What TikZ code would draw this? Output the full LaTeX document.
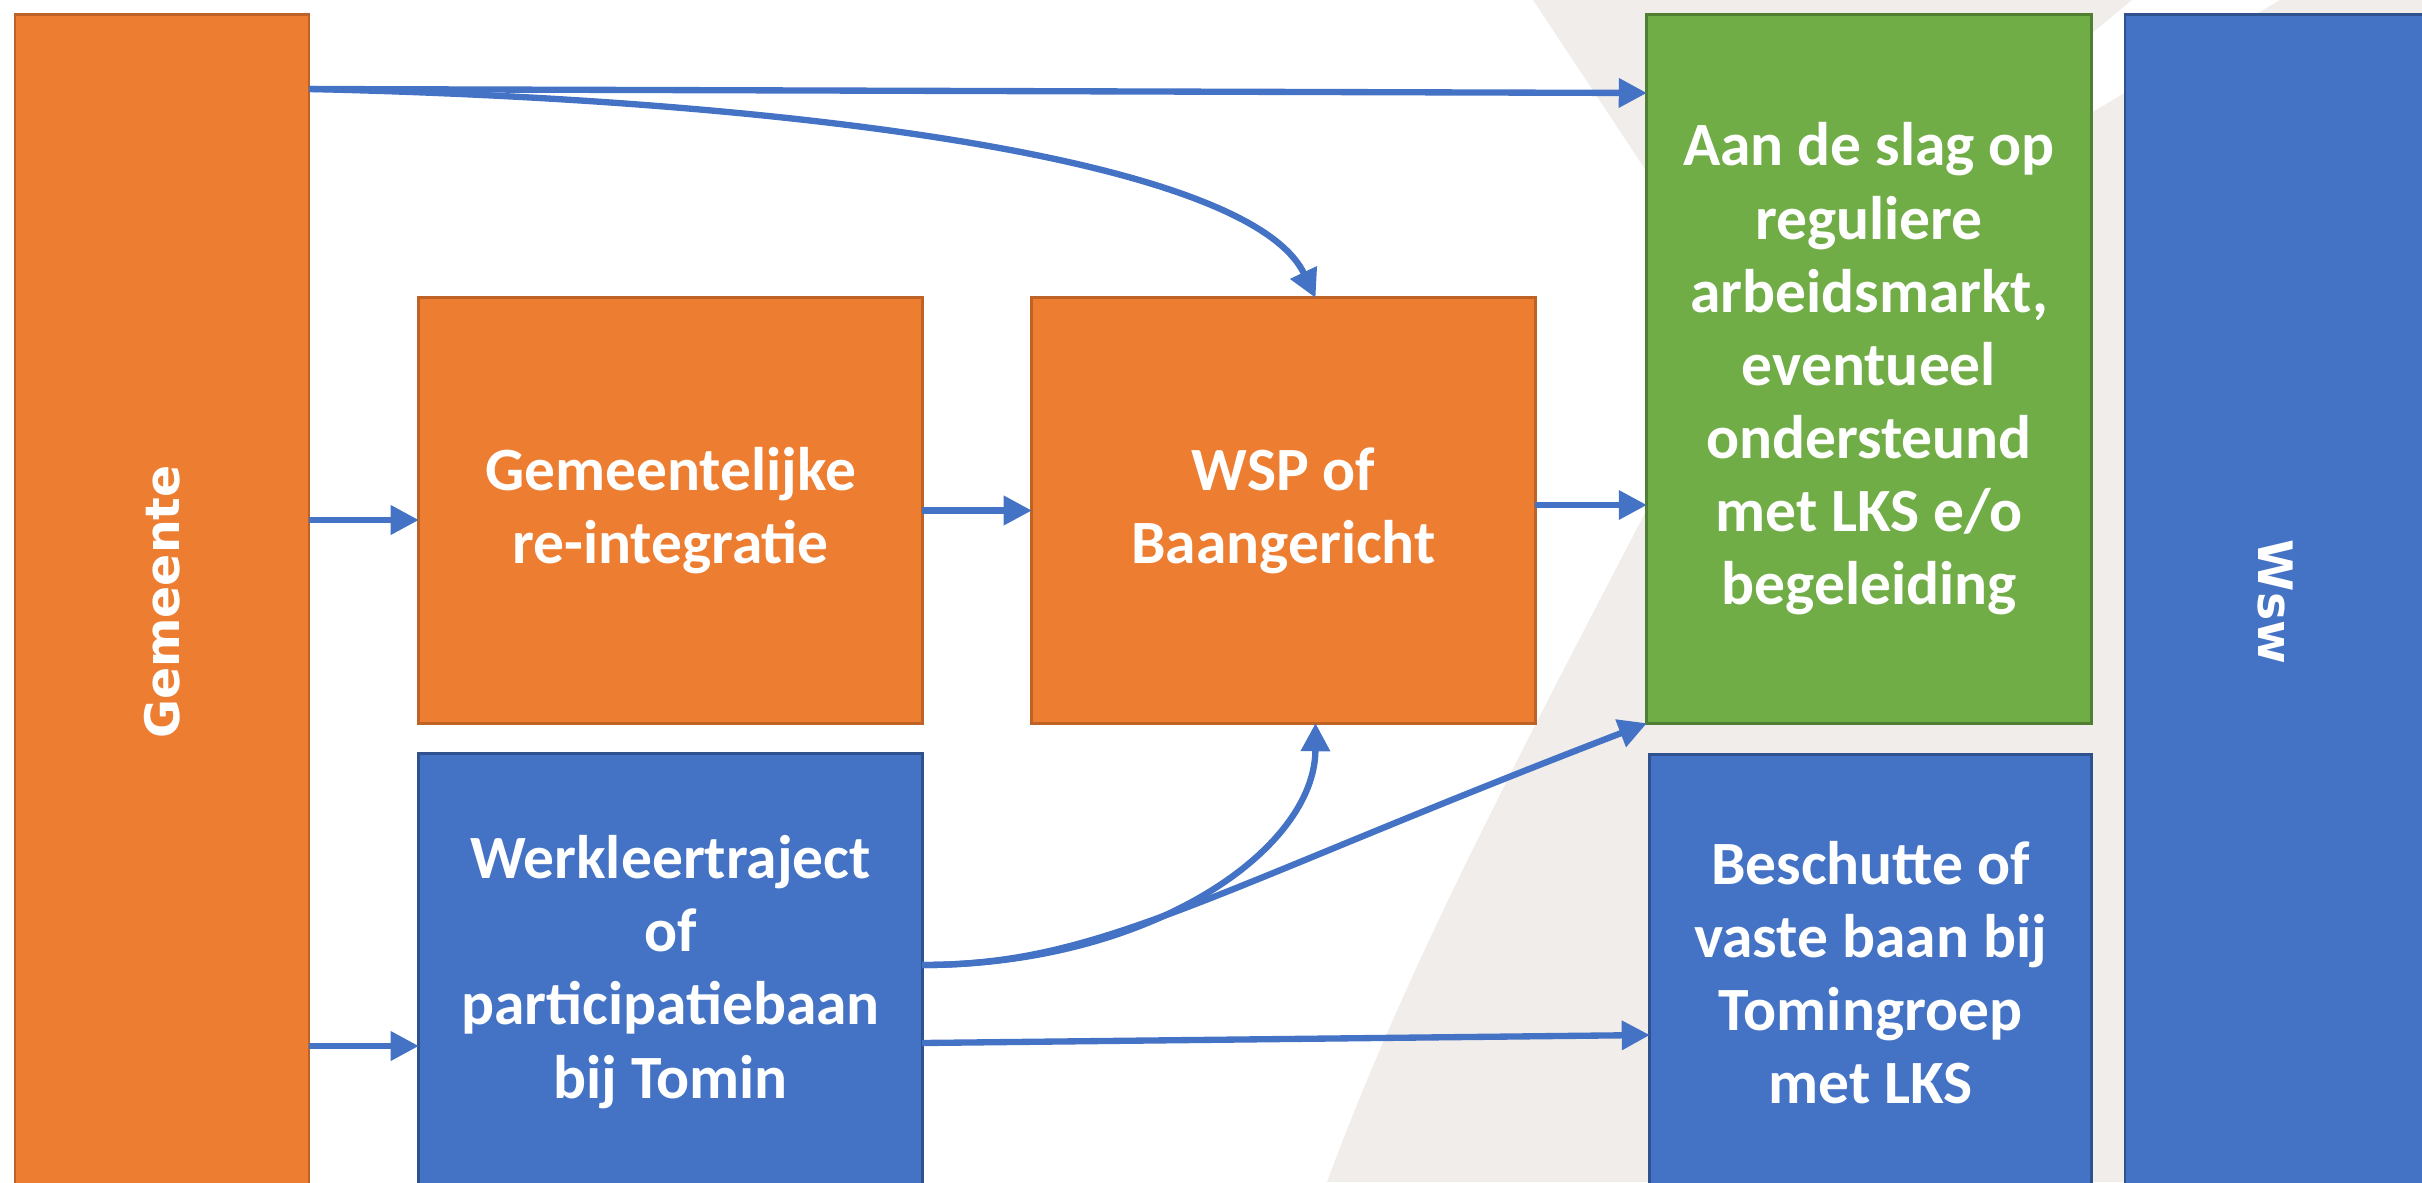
\documentclass[tikz,border=0pt]{standalone}
\usepackage{fontspec}
\setmainfont{Carlito}
\newfontfamily\zijletter{DejaVu Sans}
\usetikzlibrary{arrows.meta}

\definecolor{oranje}{RGB}{237,125,49}
\definecolor{oranjerand}{RGB}{190,98,38}
\definecolor{groen}{RGB}{112,173,71}
\definecolor{groenrand}{RGB}{80,126,50}
\definecolor{blauw}{RGB}{68,114,196}
\definecolor{blauwrand}{RGB}{47,82,143}
\definecolor{vlak}{RGB}{240,237,234}

\begin{document}
\begin{tikzpicture}[x=0.01cm, y=-0.01cm,
        blok/.style = {rectangle, draw, line width=0.8pt, text=white, align=center,
            inner sep=0pt, outer sep=0pt, font=\bfseries\fontsize{17.5}{20.8}\selectfont},
        oranjeblok/.style = {blok, fill=oranje, draw=oranjerand},
        groenblok/.style = {blok, fill=groen, draw=groenrand},
        blauwblok/.style = {blok, fill=blauw, draw=blauwrand},
        zijblok/.style = {font=\zijletter\bfseries\fontsize{13.5}{16}\selectfont},
        pijl/.style = {draw=blauw, line width=1.8pt, -{Triangle[length=8pt,width=8pt]}}]

        \useasboundingbox (0,0) rectangle (2422,1182);
        \clip (0,0) rectangle (2422,1182);

        % achtergrond
        \fill[vlak] (1533,0) -- (1745,320) -- (2132,0) -- cycle;
        \fill[vlak] (1745,320) -- (2280,0) -- (2422,0) -- (2422,1182) -- (1327,1182)
            .. controls (1420,930) and (1560,680) .. (1745,320);

        % blokken
        \node[oranjeblok, zijblok, minimum width=2.94cm, minimum height=11.75cm] at (162,602) (gem) {\rotatebox{90}{Gemeente}};
        \node[oranjeblok, minimum width=5.03cm, minimum height=4.25cm] at (670.5,510.5) (reint) {Gemeentelijke\\re-integratie};
        \node[oranjeblok, minimum width=5.03cm, minimum height=4.25cm] at (1283.5,510.5) (wsp) {WSP of\\Baangericht};
        \node[blauwblok, minimum width=5.03cm, minimum height=4.36cm] at (670.5,972) (werk) {Werkleertraject\\of\\participatiebaan\\bij Tomin};
        \node[groenblok, minimum width=4.44cm, minimum height=7.08cm] at (1869,369) (regulier) {Aan de slag op\\reguliere\\arbeidsmarkt,\\eventueel\\ondersteund\\met LKS e/o\\begeleiding};
        \node[blauwblok, minimum width=4.41cm, minimum height=4.35cm] at (1870.5,972.5) (beschut) {Beschutte of\\vaste baan bij\\Tomingroep\\met LKS};
        \node[blauwblok, zijblok, minimum width=3.00cm, minimum height=11.75cm] at (2275,602) (wsw) {\rotatebox{-90}{Wsw}};

        % pijlen
        \draw[pijl] (gem.east |- 0,89) -- (regulier.west |- 0,93);
        \draw[pijl] (gem.east |- 0,89) .. controls (800,100) and (1250,160) .. ([xshift=0.32cm]wsp.north);
        \draw[pijl] (gem.east |- 0,520) -- (reint.west |- 0,520);
        \draw[pijl] (reint.east) -- (wsp.west);
        \draw[pijl] (wsp.east |- 0,505) -- (regulier.west |- 0,505);
        \draw[pijl] (gem.east |- 0,1046) -- (werk.west |- 0,1046);
        \draw[pijl] (werk.east |- 0,965) .. controls (1150,965) and (1315,850) .. ([xshift=0.32cm]wsp.south);
        \draw[pijl] (werk.east |- 0,965) .. controls (1100,965) and (1200,895) .. (regulier.south west);
        \draw[pijl] (werk.east |- 0,1043) -- (beschut.west |- 0,1035);
\end{tikzpicture}
\end{document}
